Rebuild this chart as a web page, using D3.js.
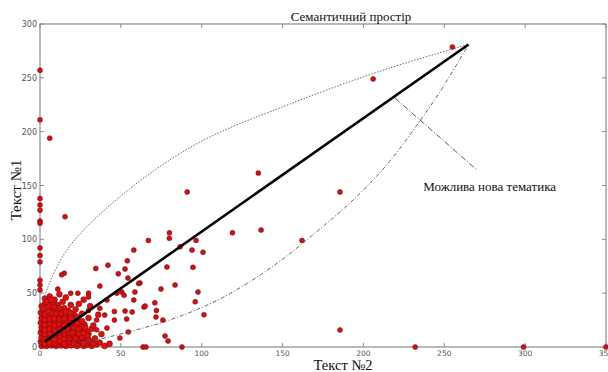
<!DOCTYPE html>
<html><head><meta charset="utf-8">
<script src="https://cdn.jsdelivr.net/npm/d3@7/dist/d3.min.js"></script>
<style>html,body{margin:0;padding:0;background:#fff;}svg{display:block;}</style>
</head><body>
<svg id="c" width="608" height="372"></svg>
<script>
const title = "Семантичний простір";
const xLabel = "Текст №2";
const yLabel = "Текст №1";
const annotation = "Можлива нова тематика";
const xTicks = [0, 50, 100, 150, 200, 250, 300, 350];
const yTicks = [0, 50, 100, 150, 200, 250, 300];

// outlying points [Текст №2, Текст №1]
const outliers = [
  [0,257],[0,211],[6,194],[91,144],[15.5,121],[0,138],[0,132],[0,127],[0,117],[0,115],
  [67,99],[80,106],[80,101],[255,278.6],[206,249],[135,161.5],[185.5,144],[119,106],
  [136.7,108.6],[162,99],[96.5,99],[94,90],[100.8,88],[94.6,74],[97.7,51],[96,42],
  [101.4,30],[185.5,15.8],[232,0],[299,0],[350,0],[86.6,93],[78.5,74.3],[61.8,59.4],
  [74.8,53.9],[83.5,57.6],[64.3,37.1],[71.7,27.9],[76,25],[77.3,10.2],[79.2,5.6],
  [87.8,0],[63.7,0],[65.5,0],[58,90],[34.5,73],[42,76],[54,80],[15,68.6],[13.4,67],
  [48.4,68],[52.6,72.4],[54.4,64],[37,56.6],[61,59],[11,53.8],[19,50],[23.4,50],[30,50],
  [30,46.4],[47.5,50],[50.6,51],[52,48],[58,43.6],[58.7,51],[65,38],[52.6,33.4],[57,32.5],
  [46,33],[46,25],[53.6,26],[54.6,14],[49.4,8.3],[41.4,17.6],[35,16],[35,25],[40,29.7],
  [37,36],[30,34],[41.4,43.6],[71,41],[72,34],[0,92],[0,79],[0,62],[0,57.6],[0,53],[0,85]
];

// dense cluster near the origin [Текст №2, Текст №1]
const cluster = [
  [1,1],[2.5,2],[4,1],[5.5,3],[7,1.5],[8.5,2.5],[10,1],[11.5,3],[13,1.5],[14.5,2.5],[16,1],[17.5,3],[19,1.5],[21,2],[23,1],[25,2.5],[27,1],[29,2],[32,1],[35,2.5],
  [0.5,5],[2,6.5],[3.5,4.5],[5,7],[6.5,5],[8,7.5],[9.5,5.5],[11,7],[12.5,5],[14,7.5],[15.5,5],[17,6.5],[18.5,4.5],[20,7],[22,5],[24,6.5],[26,5],[28.5,6],[31,4.5],
  [1,9],[2.5,11],[4,9.5],[5.5,11.5],[7,9],[8.5,11],[10,9.5],[11.5,12],[13,9],[14.5,11],[16,9.5],[17.5,12],[19,9],[21,11],[23,9.5],[25.5,11],[28,9],[30,12],
  [0.5,13.5],[2,15],[3.5,13],[5,15.5],[6.5,14],[8,16],[9.5,13.5],[11,15.5],[12.5,14],[14,16.5],[15.5,13.5],[17,15],[19,14],[21,16],[23,14],[26,15.5],[29,14.5],[32,17],
  [1,18],[2.5,19.5],[4,17.5],[5.5,20],[7,18.5],[8.5,20.5],[10,18],[11.5,20],[13,18.5],[14.5,21],[16,18],[18,20],[20,19],[22.5,20.5],[25,19],[27.5,21],
  [0.5,22.5],[2,24],[3.5,22],[5,25],[6.5,23],[8,25.5],[9.5,22.5],[11,24.5],[12.5,23],[14,25],[16,23.5],[18,25.5],[20.5,23.5],[23,25],[26,24],
  [1,27],[2.5,29],[4,27.5],[5.5,30],[7,28],[9,30],[10.5,27.5],[12,29.5],[14,28],[16,30.5],[18.5,28.5],[21,30],
  [0.5,32],[2,34],[4,32.5],[6,35],[8,33],[10,35.5],[12.5,33],[15,36],[17.5,33.5],
  [1,38],[3,40],[5.5,38.5],[8,41],[11,39],[14,42],[3,45],[6,47],[9,44],
  [34,8],[37,4],[40,1],[43,3],[38,12],[33,20],[30,27],[26,31],[22,35],[19,39],[24,40],[27,44],[16,46],[12,49],[31,38],[36,30],
  [3,3],[6,4],[9,3.5],[12,6],[15,3],[18,8],[21,4],[24,8],[27,3.5],[30,7],[33,3],
  [3,7.5],[6,10],[9,7],[12,10],[15,8],[18,11],[22,8],[26,9],[29,11],
  [3,12],[6,12.5],[9,12],[12,13],[15,12],[18,13],[20,13],[24,12.5],[27,13],
  [3,16],[6,17],[9,16],[12,17],[15,16],[17,17],[21,18],[24,17],[28,18],
  [3,20.5],[6,21.5],[9,20],[12,21.5],[15,20],[19,22],[23,22],
  [3,25.5],[6,26],[9,26.5],[12,26],[15,26.5],[19,27],[23,28],
  [3,30.5],[7,31.5],[10,31],[13,31],[16,32.5],[19,31.5],
  [2,36],[5,33],[9,37],[12,36],[4,42],[7,44]
];

// trend line end points
const trend = [[3,5],[265,281]];
// envelope curves
const upperCurve = [[0.3,34],[5.5,58],[18,93],[49,139],[96,188],[155,226],[216,259],[265,281]];
const lowerCurve = [[22,2],[47,11],[82,26],[113,46],[144,75],[171,107],[196,140],[216,172],[233,206],[249,241],[265,281]];
// annotation pointer
const pointer = [[219.5,231.2],[270.3,164.3]];
const annotationAt = [237,145];

const svg = d3.select("#c");
const x = d3.scaleLinear().domain([0,350]).range([40,606]);
const y = d3.scaleLinear().domain([0,300]).range([347,24]);

const frameColor = "#8a8a8a";
const tickText = "#555";

// frame
svg.append("rect").attr("x", x(0)).attr("y", y(300)).attr("width", x(350)-x(0)).attr("height", y(0)-y(300))
  .attr("fill","none").attr("stroke",frameColor).attr("stroke-width",1.2);

// ticks inward on all sides
const tg = svg.append("g").attr("stroke", frameColor).attr("stroke-width",1);
xTicks.forEach(t => {
  tg.append("line").attr("x1",x(t)).attr("x2",x(t)).attr("y1",y(0)).attr("y2",y(0)-4);
  tg.append("line").attr("x1",x(t)).attr("x2",x(t)).attr("y1",y(300)).attr("y2",y(300)+4);
});
yTicks.forEach(t => {
  tg.append("line").attr("x1",x(0)).attr("x2",x(0)+4).attr("y1",y(t)).attr("y2",y(t));
  tg.append("line").attr("x1",x(350)).attr("x2",x(350)-4).attr("y1",y(t)).attr("y2",y(t));
});
svg.append("g").selectAll("text").data(xTicks).join("text")
  .attr("x", d=>x(d)).attr("y", y(0)+9).attr("text-anchor","middle")
  .attr("font-family","DejaVu Sans, sans-serif").attr("font-size",7.5).attr("fill",tickText).text(d=>d);
svg.append("g").selectAll("text").data(yTicks).join("text")
  .attr("x", x(0)-3).attr("y", d=>y(d)+3).attr("text-anchor","end")
  .attr("font-family","DejaVu Sans, sans-serif").attr("font-size",8).attr("fill",tickText).text(d=>d);

// points
const dotFill = "#c8141a", dotStroke = "#7a0a0a";
svg.append("g").selectAll("circle").data(cluster).join("circle")
  .attr("cx", d=>x(d[0])).attr("cy", d=>y(d[1])).attr("r",2.9)
  .attr("fill","#de1010").attr("stroke",dotStroke).attr("stroke-width",0.6);
svg.append("g").selectAll("circle").data(outliers).join("circle")
  .attr("cx", d=>x(d[0])).attr("cy", d=>y(d[1])).attr("r",2.5)
  .attr("fill",dotFill).attr("stroke",dotStroke).attr("stroke-width",0.5);

// curves
const line = d3.line().x(d=>x(d[0])).y(d=>y(d[1])).curve(d3.curveCatmullRom.alpha(0.5));
svg.append("path").datum(upperCurve).attr("d",line).attr("fill","none")
  .attr("stroke","#555").attr("stroke-width",0.9).attr("stroke-dasharray","1.5,1.5");
svg.append("path").datum(lowerCurve).attr("d",line).attr("fill","none")
  .attr("stroke","#555").attr("stroke-width",0.9).attr("stroke-dasharray","4,2,1,2");

// trend line
const straight = d3.line().x(d=>x(d[0])).y(d=>y(d[1]));
svg.append("path").datum(trend).attr("d",straight).attr("fill","none")
  .attr("stroke","#000").attr("stroke-width",2.6);

// annotation pointer
svg.append("path").datum(pointer).attr("d",straight).attr("fill","none")
  .attr("stroke","#444").attr("stroke-width",0.9).attr("stroke-dasharray","6,2,1,2");
svg.append("text").attr("x",x(annotationAt[0])).attr("y",y(annotationAt[1]))
  .attr("font-family","Liberation Serif, Times New Roman, serif").attr("font-size",13).attr("fill","#111").text(annotation);

// title and labels
svg.append("text").attr("x",351).attr("y",21).attr("text-anchor","middle")
  .attr("font-family","Liberation Serif, Times New Roman, serif").attr("font-size",13).attr("fill","#111").text(title);
svg.append("text").attr("x",343).attr("y",370).attr("text-anchor","middle")
  .attr("font-family","Liberation Serif, Times New Roman, serif").attr("font-size",14.5).attr("fill","#111").text(xLabel);
svg.append("text").attr("transform","translate(21,190) rotate(-90)").attr("text-anchor","middle")
  .attr("font-family","Liberation Serif, Times New Roman, serif").attr("font-size",15).attr("fill","#111").text(yLabel);
</script>
</body></html>
